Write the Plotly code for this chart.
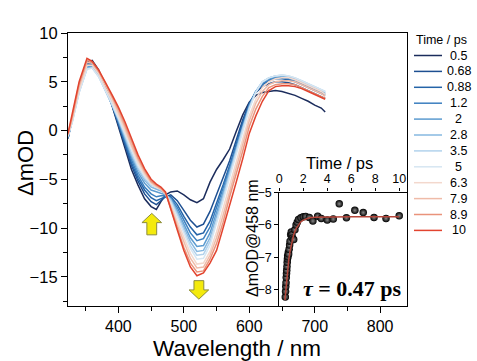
import plotly.graph_objects as go

# ---------------- data ----------------
wavelength = [323, 330, 340, 352, 360, 370, 380, 390, 400, 410, 420, 430, 440, 450, 458,
              465, 472, 480, 490, 500, 510, 520, 530, 540, 550, 560, 570, 580, 590, 600,
              610, 620, 630, 640, 650, 660, 670, 680, 690, 700, 710, 716]

delays = ["0.5", "0.68", "0.88", "1.2", "2", "2.8", "3.5", "5", "6.3", "7.9", "8.9", "10"]

s_0p5 = [-0.8, 1.4, 4.6, 7.0, 7.2, 6.2, 4.6, 2.6, 0.4, -1.9, -4.0, -5.6, -7.0, -7.8, -8.1,
         -7.3, -6.6, -6.3, -6.2, -6.6, -7.1, -7.4, -7.0, -5.3, -4.0, -3.0, -1.9, -0.1, 1.6, 2.9,
         3.6, 3.9, 4.0, 4.1, 4.0, 3.8, 3.6, 3.3, 3.0, 2.6, 2.3, 1.9]
s_0p68 = [-0.8, 1.4, 4.5, 6.9, 7.0, 6.0, 4.5, 2.7, 0.7, -1.5, -3.6, -5.2, -6.5, -7.3, -7.6,
          -7.2, -6.8, -6.6, -7.2, -8.2, -9.2, -9.9, -9.6, -8.3, -6.6, -4.9, -3.1, -1.0, 1.1, 2.8,
          3.9, 4.5, 4.8, 5.0, 5.0, 4.9, 4.7, 4.4, 4.1, 3.8, 3.5, 3.3]
s_0p88 = [-0.8, 1.3, 4.4, 6.8, 6.9, 5.9, 4.4, 2.7, 0.8, -1.3, -3.3, -4.9, -6.1, -6.9, -7.2,
          -7.0, -6.8, -6.8, -7.6, -8.8, -9.9, -10.7, -10.5, -9.3, -7.5, -5.6, -3.6, -1.4, 0.8, 2.7,
          4.0, 4.7, 5.1, 5.3, 5.3, 5.2, 5.0, 4.7, 4.4, 4.1, 3.8, 3.6]
s_1p2 = [-0.7, 1.3, 4.3, 6.7, 6.8, 5.8, 4.3, 2.7, 0.9, -1.1, -3.0, -4.6, -5.8, -6.5, -6.8,
         -6.7, -6.7, -6.9, -7.9, -9.2, -10.5, -11.3, -11.1, -9.9, -8.0, -5.9, -3.8, -1.6, 0.6, 2.6,
         4.0, 4.8, 5.2, 5.4, 5.4, 5.3, 5.1, 4.8, 4.5, 4.2, 3.9, 3.7]
s_2 = [-0.7, 1.2, 4.2, 6.5, 6.6, 5.7, 4.2, 2.7, 1.0, -0.9, -2.7, -4.3, -5.4, -6.1, -6.3,
       -6.4, -6.6, -7.0, -8.2, -9.6, -11.0, -11.9, -11.8, -10.5, -8.5, -6.3, -4.1, -1.8, 0.4, 2.5,
       4.0, 4.9, 5.3, 5.5, 5.5, 5.4, 5.2, 4.9, 4.6, 4.3, 4.0, 3.8]
s_2p8 = [-0.7, 1.1, 4.0, 6.4, 6.5, 5.6, 4.1, 2.7, 1.1, -0.7, -2.5, -4.0, -5.1, -5.8, -6.0,
         -6.2, -6.5, -7.1, -8.4, -9.9, -11.4, -12.4, -12.3, -11.0, -8.9, -6.6, -4.3, -2.0, 0.3, 2.4,
         4.0, 5.0, 5.4, 5.6, 5.6, 5.5, 5.3, 5.0, 4.7, 4.4, 4.1, 3.9]
s_3p5 = [-0.6, 1.0, 3.9, 6.3, 6.4, 5.5, 4.1, 2.7, 1.2, -0.5, -2.3, -3.8, -4.9, -5.6, -5.8,
         -6.1, -6.5, -7.2, -8.6, -10.2, -11.8, -12.8, -12.7, -11.4, -9.3, -6.9, -4.5, -2.2, 0.2, 2.3,
         4.0, 5.0, 5.4, 5.6, 5.7, 5.6, 5.4, 5.1, 4.8, 4.5, 4.2, 4.0]
s_5 = [-0.6, 1.0, 3.9, 6.3, 6.4, 5.5, 4.1, 2.8, 1.3, -0.4, -2.1, -3.6, -4.7, -5.5, -5.8,
       -6.0, -6.5, -7.4, -8.9, -10.5, -12.1, -13.2, -13.1, -11.8, -9.6, -7.2, -4.8, -2.4, 0.0, 2.2,
       3.9, 5.0, 5.4, 5.6, 5.7, 5.6, 5.4, 5.1, 4.8, 4.5, 4.2, 4.0]
s_6p3 = [-0.5, 1.2, 4.2, 6.7, 6.7, 5.8, 4.4, 3.1, 1.6, -0.1, -1.8, -3.3, -4.5, -5.4, -5.8,
         -6.0, -6.5, -7.6, -9.3, -11.0, -12.6, -13.7, -13.6, -12.4, -10.4, -8.0, -5.6, -3.2, -0.8, 1.5,
         3.2, 4.4, 5.0, 5.3, 5.4, 5.4, 5.2, 4.9, 4.6, 4.3, 4.0, 3.7]
s_7p9 = [-0.4, 1.4, 4.5, 7.0, 6.9, 6.0, 4.7, 3.4, 1.9, 0.3, -1.5, -3.0, -4.3, -5.3, -5.7,
         -6.0, -6.5, -7.8, -9.7, -11.5, -13.1, -14.1, -14.0, -12.8, -11.0, -8.7, -6.2, -3.8, -1.4, 1.0,
         2.8, 4.0, 4.7, 5.0, 5.1, 5.1, 5.0, 4.7, 4.4, 4.1, 3.8, 3.5]
s_8p9 = [-0.4, 1.6, 4.8, 7.2, 7.0, 6.1, 4.9, 3.6, 2.2, 0.6, -1.2, -2.8, -4.1, -5.2, -5.6,
         -5.9, -6.4, -8.0, -10.0, -12.0, -13.6, -14.5, -14.4, -13.2, -11.6, -9.4, -6.8, -4.5, -2.1, 0.4,
         2.2, 3.5, 4.4, 4.7, 4.8, 4.8, 4.7, 4.4, 4.1, 3.8, 3.5, 3.3]
s_10 = [-0.3, 1.8, 5.0, 7.4, 7.1, 6.2, 5.0, 3.7, 2.4, 0.9, -0.8, -2.5, -3.9, -5.0, -5.5,
        -5.8, -6.3, -8.1, -10.2, -12.3, -14.0, -14.9, -14.6, -13.6, -12.3, -10.0, -7.5, -5.3, -2.9, -0.3,
        1.5, 3.0, 4.1, 4.5, 4.6, 4.6, 4.5, 4.3, 4.0, 3.7, 3.4, 3.2]

spectra = [s_0p5, s_0p68, s_0p88, s_1p2, s_2, s_2p8, s_3p5, s_5, s_6p3, s_7p9, s_8p9, s_10]

colors = ["#1b2c5c", "#1d4f91", "#2464a8", "#3b7fbf", "#5b9bd0", "#86b8e0",
          "#b2d2ec", "#d6e6f2", "#f3d8cd", "#efbba8", "#e9937b", "#e2442f"]

# kinetics at 458 nm
kin_t = [0.50, 0.52, 0.54, 0.56, 0.58, 0.60, 0.62, 0.64, 0.66, 0.68, 0.70, 0.72, 0.75, 0.78,
         0.82, 0.86, 0.90, 0.95, 1.00, 1.05, 1.10, 1.20, 1.30, 1.40, 1.50, 1.60, 1.80, 2.00,
         2.20, 2.50, 2.80, 3.20, 3.50, 4.00, 4.50, 5.00, 5.60, 6.30, 7.00, 7.90, 8.90, 10.0]
kin_y = [-8.22, -8.05, -7.90, -7.78, -7.62, -7.50, -7.40, -7.28, -7.15, -7.05, -6.95, -6.98, -6.85, -6.90,
         -6.75, -6.62, -6.50, -6.30, -6.22, -6.30, -6.40, -6.45, -6.15, -6.00, -5.92, -5.83, -5.78, -5.75,
         -5.74, -5.77, -5.88, -5.73, -5.80, -5.85, -5.82, -5.35, -5.78, -5.55, -5.62, -5.77, -5.80, -5.72]
fit_t = [0.47, 0.5, 0.55, 0.6, 0.65, 0.7, 0.8, 0.9, 1.0, 1.1, 1.2, 1.4, 1.6, 1.8, 2.0, 2.5, 3.0,
         4.0, 6.0, 8.0, 10.0]
fit_y = [-8.32, -8.20, -7.95, -7.73, -7.53, -7.35, -7.04, -6.80, -6.60, -6.43, -6.30, -6.11, -5.99,
         -5.90, -5.85, -5.78, -5.76, -5.75, -5.75, -5.75, -5.75]

# ---------------- figure ----------------
fig = go.Figure()
for name, ys, col in zip(delays, spectra, colors):
    fig.add_trace(go.Scatter(x=wavelength, y=ys, mode="lines", name=name + " ps",
                             line=dict(color=col, width=1.5), xaxis="x", yaxis="y",
                             showlegend=False))

fig.add_trace(go.Scatter(x=kin_t, y=kin_y, mode="markers", showlegend=False,
                         marker=dict(size=7.5, color="#000000",
                                     gradient=dict(type="radial", color="#8a8a8a"),
                                     line=dict(width=0)),
                         xaxis="x2", yaxis="y2"))
fig.add_trace(go.Scatter(x=fit_t, y=fit_y, mode="lines", showlegend=False,
                         line=dict(color="#b5463a", width=1.5), xaxis="x2", yaxis="y2"))

FONT = "Liberation Sans, Arial, sans-serif"
L, R, T, B = 68, 70, 33, 55
W, H = 477, 361
pw, ph = W - L - R, H - T - B

def px_x(p):
    return (p - L) / pw

def px_y(p):
    return (H - B - p) / ph

inset_x0 = px_x(279.3)
inset_y1 = px_y(192.5)

axis_common = dict(showline=True, linecolor="black", linewidth=1.2, mirror=True,
                   ticks="outside", tickcolor="black", ticklen=6, tickwidth=1.2,
                   showgrid=False, zeroline=False)

def arrow_path(cx, ybase, ytip, head_w, shaft_w, head_h):
    # block arrow pointing from ybase toward ytip
    d = 1 if ytip > ybase else -1
    yneck = ytip - d * head_h
    pts = [(cx - shaft_w / 2, ybase), (cx - shaft_w / 2, yneck), (cx - head_w / 2, yneck),
           (cx, ytip), (cx + head_w / 2, yneck), (cx + shaft_w / 2, yneck),
           (cx + shaft_w / 2, ybase)]
    return "M " + " L ".join(f"{x},{y}" for x, y in pts) + " Z"

fig.update_layout(
    width=W, height=H,
    margin=dict(l=L, r=R, t=T, b=B, autoexpand=False),
    paper_bgcolor="white", plot_bgcolor="white",
    font=dict(family=FONT, color="black"),
    showlegend=False,
    xaxis=dict(range=[323, 841], tickvals=[400, 500, 600, 700, 800],
               tickfont=dict(size=16), domain=[0, 1],
               minor=dict(dtick=50, tick0=350, ticks="outside", ticklen=3.5, tickcolor="black"),
               **axis_common),
    yaxis=dict(range=[-18, 10], tickvals=[-15, -10, -5, 0, 5, 10],
               tickfont=dict(size=16.5), domain=[0, 1],
               minor=dict(dtick=2.5, tick0=0, ticks="outside", ticklen=3.5, tickcolor="black"),
               **axis_common),
    xaxis2=dict(domain=[inset_x0, 1], anchor="y2", side="top", range=[0, 10.65],
                tickvals=[0, 2, 4, 6, 8, 10], tickfont=dict(size=12.5),
                showline=True, linecolor="black", linewidth=1.2, mirror=True,
                ticks="outside", ticklen=3, tickcolor="black", showgrid=False, zeroline=False),
    yaxis2=dict(domain=[0, inset_y1], anchor="x2", range=[-8.5, -5],
                tickvals=[-8, -7, -6, -5], tickfont=dict(size=12.5),
                showline=True, linecolor="black", linewidth=1.2, mirror=True,
                ticks="outside", ticklen=4, tickcolor="black", showgrid=False, zeroline=False),
)

annotations = [
    dict(text="Wavelength / nm", x=px_x(236.5), y=px_y(349), xref="paper", yref="paper",
         showarrow=False, font=dict(size=22.5, family=FONT), xanchor="center", yanchor="middle"),
    dict(text="\u0394mOD", x=px_x(25), y=px_y(163), xref="paper", yref="paper",
         showarrow=False, font=dict(size=22, family=FONT), textangle=-90,
         xanchor="center", yanchor="middle"),
    dict(text="Time / ps", x=px_x(339.5), y=px_y(163), xref="paper", yref="paper",
         showarrow=False, font=dict(size=16.5, family=FONT), xanchor="center", yanchor="middle"),
    dict(text="\u0394mOD@458 nm", x=px_x(252), y=px_y(238), xref="paper", yref="paper",
         showarrow=False, font=dict(size=16, family=FONT), textangle=-90,
         xanchor="center", yanchor="middle"),
    dict(text="<b><i>\u03c4</i> = 0.47 ps</b>", x=px_x(352.5), y=px_y(288), xref="paper", yref="paper",
         showarrow=False, font=dict(size=22, family="Liberation Serif, Times New Roman, serif"),
         xanchor="center", yanchor="middle"),
    dict(text="Time / ps", x=px_x(441.5), y=px_y(40), xref="paper", yref="paper",
         showarrow=False, font=dict(size=12.5, family=FONT), xanchor="center", yanchor="middle"),
]

shapes = [
    dict(type="path", xref="x", yref="y",
         path=arrow_path(451, -10.7, -8.5, 30, 15, 0.95),
         fillcolor="#f4ea0c", line=dict(color="#8c8c3c", width=1)),
    dict(type="path", xref="x", yref="y",
         path=arrow_path(523, -15.4, -17.3, 30, 15, 0.95),
         fillcolor="#f4ea0c", line=dict(color="#8c8c3c", width=1)),
]

# hand-made legend (row spacing as in the reference)
for i, (lab, col) in enumerate(zip(delays, colors)):
    yrow = 55.5 + 15.9 * i
    shapes.append(dict(type="line", xref="paper", yref="paper",
                       x0=px_x(414), x1=px_x(442), y0=px_y(yrow), y1=px_y(yrow),
                       line=dict(color=col, width=1.5)))
    annotations.append(dict(text=lab, x=px_x(458.5), y=px_y(yrow), xref="paper", yref="paper",
                            showarrow=False, font=dict(size=12.5, family=FONT),
                            xanchor="center", yanchor="middle"))

fig.update_layout(annotations=annotations, shapes=shapes)

fig.write_html("out.html", config={"displayModeBar": False},
               post_script="document.body.style.margin='0';document.body.style.padding='0';")
